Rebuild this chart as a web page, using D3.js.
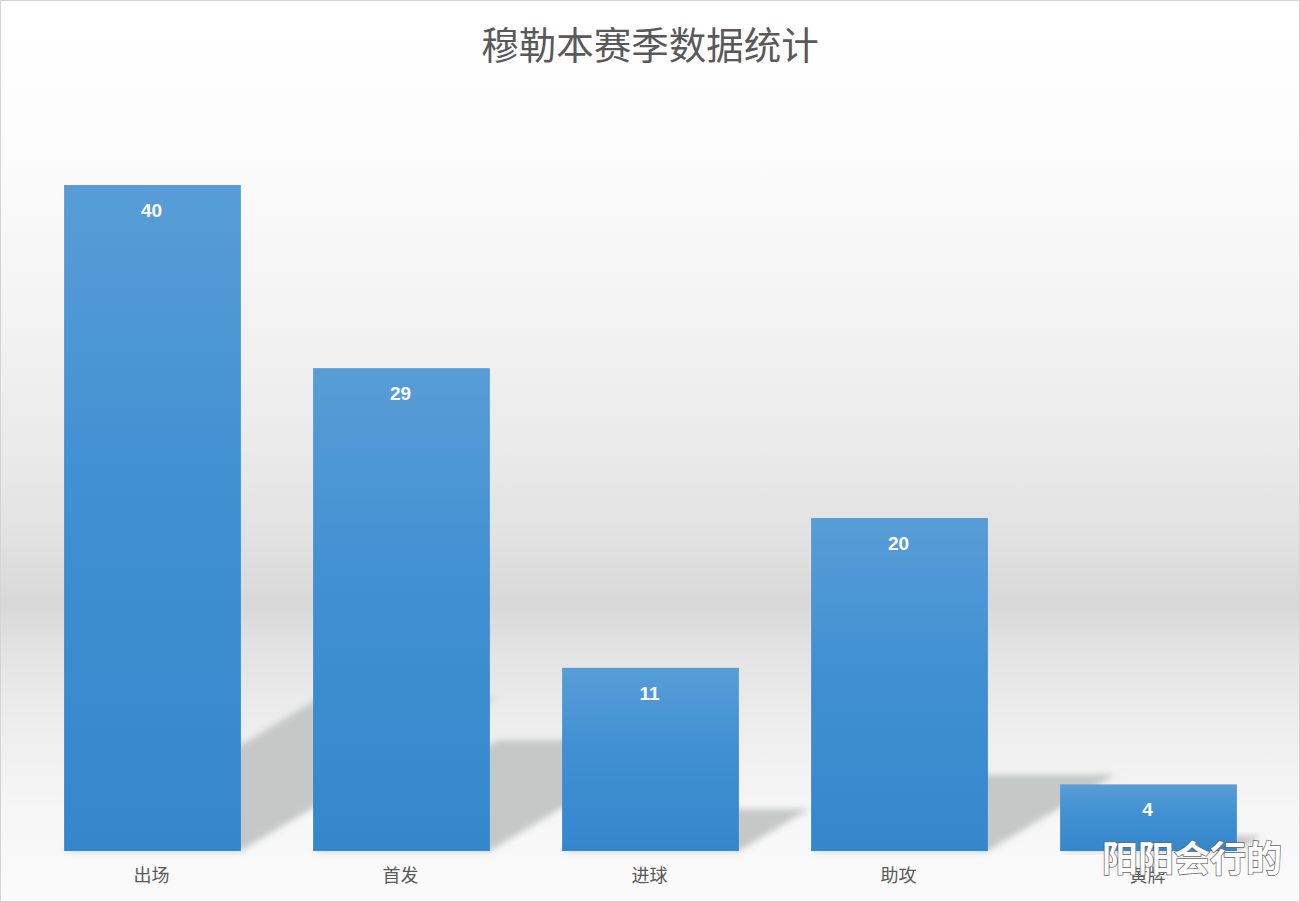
<!DOCTYPE html>
<html>
<head>
<meta charset="utf-8">
<script src="https://cdn.jsdelivr.net/npm/d3@7"></script>
<style>
  html, body { margin: 0; padding: 0; background: #fff; }
  svg { display: block; }
</style>
</head>
<body>
<div id="chart"></div>
<script>
const title = "穆勒本赛季数据统计";
const categories = ["出场", "首发", "进球", "助攻", "黄牌"];
const values = [40, 29, 11, 20, 4];
const watermark = "阳阳会行的";

const W = 1300, H = 902;
const svg = d3.select("#chart").append("svg").attr("width", W).attr("height", H);
const defs = svg.append("defs");

// background gradient
const bg = defs.append("linearGradient").attr("id", "bg").attr("x1", 0).attr("y1", 0).attr("x2", 0).attr("y2", 1);
[[0, "#ffffff"], [0.14, "#fdfdfd"], [0.35, "#f3f3f3"], [0.5, "#eaeaea"], [0.6, "#e1e1e1"], [0.67, "#d8d8d8"],
 [0.72, "#e3e3e3"], [0.8, "#ededed"], [0.9, "#f6f6f6"], [1, "#fbfbfb"]]
  .forEach(([o, c]) => bg.append("stop").attr("offset", o).attr("stop-color", c));

// bar gradient
const bargrad = defs.append("linearGradient").attr("id", "bar").attr("x1", 0).attr("y1", 0).attr("x2", 0).attr("y2", 1);
[[0, "#589dd7"], [0.45, "#4090d2"], [1, "#3587cc"]]
  .forEach(([o, c]) => bargrad.append("stop").attr("offset", o).attr("stop-color", c));

const blur = defs.append("filter").attr("id", "blur").attr("x", "-20%").attr("y", "-20%").attr("width", "140%").attr("height", "140%");
blur.append("feGaussianBlur").attr("stdDeviation", 3);

svg.append("rect").attr("x", 0).attr("y", 0).attr("width", W).attr("height", H).attr("fill", "url(#bg)");

const x = d3.scaleBand().domain(categories).range([28, 1273]).paddingInner(0.29).paddingOuter(0.145);
const y = d3.scaleLinear().domain([0, 40]).range([851, 185]);

const data = categories.map((c, i) => ({ c, v: values[i] }));

// perspective shadows
const base = y(0);
const shadowScale = 0.23, slope = 0.6;
svg.append("g").selectAll("path").data(data).join("path")
  .attr("d", d => {
    const h = (base - y(d.v)) * shadowScale;
    const dx = h / slope;
    const x0 = x(d.c), x1 = x(d.c) + x.bandwidth();
    return `M${x0},${base}L${x1},${base}L${x1 + dx},${base - h}L${x0 + dx},${base - h}Z`;
  })
  .attr("fill", "#c6c7c7")
  .attr("filter", "url(#blur)");

// bars
svg.append("g").selectAll("rect").data(data).join("rect")
  .attr("x", d => x(d.c))
  .attr("y", d => y(d.v))
  .attr("width", x.bandwidth())
  .attr("height", d => base - y(d.v))
  .attr("fill", "url(#bar)");

// value labels
svg.append("g").selectAll("text").data(data).join("text")
  .attr("x", d => x(d.c) + x.bandwidth() / 2 - 1)
  .attr("y", d => y(d.v) + 32)
  .attr("text-anchor", "middle")
  .attr("font-family", "'Liberation Sans', Arial, sans-serif")
  .attr("font-weight", "bold")
  .attr("font-size", 19)
  .attr("fill", "#ffffff")
  .text(d => d.v);

// category axis labels
const xAxis = d3.axisBottom(x).tickSize(0).tickPadding(0);
const ax = svg.append("g").attr("transform", `translate(0,${base})`).call(xAxis);
ax.select(".domain").remove();
ax.selectAll("text")
  .attr("dy", 0).attr("y", 31).attr("x", -1)
  .attr("font-family", "'Noto Sans CJK SC', sans-serif")
  .attr("font-size", 18)
  .attr("fill", "#595959");

// title
svg.append("text")
  .attr("x", 650).attr("y", 59)
  .attr("text-anchor", "middle")
  .attr("font-family", "'Noto Sans CJK SC', sans-serif")
  .attr("font-size", 37.5)
  .attr("fill", "#595959")
  .text(title);

// watermark
svg.append("text")
  .attr("x", 1282).attr("y", 872)
  .attr("text-anchor", "end")
  .attr("font-family", "'Noto Sans CJK SC', sans-serif")
  .attr("font-weight", "bold")
  .attr("font-size", 36)
  .attr("fill", "#ffffff")
  .attr("stroke", "#666666")
  .attr("stroke-width", 1.4)
  .attr("paint-order", "stroke")
  .text(watermark);

// border
svg.append("rect").attr("x", 0.5).attr("y", 0.5).attr("width", W - 1).attr("height", H - 1)
  .attr("fill", "none").attr("stroke", "#d4d4d4").attr("stroke-width", 1);
</script>
</body>
</html>
